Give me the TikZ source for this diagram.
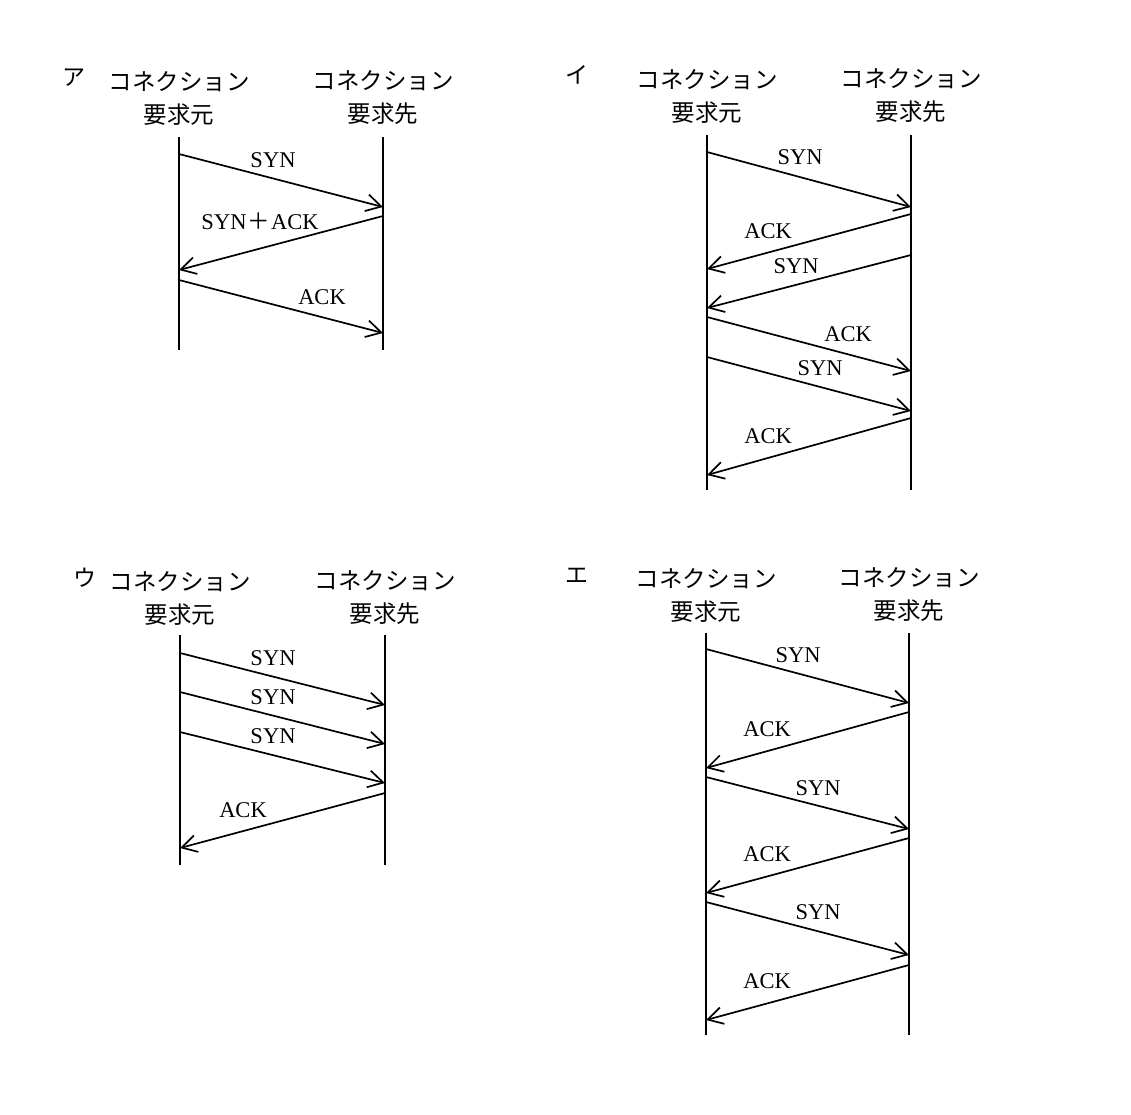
\documentclass[tikz,border=0pt]{standalone}
\usepackage{fontspec}
\setmainfont{Liberation Serif}
\newfontfamily\jpfont{Noto Sans CJK JP}
\usetikzlibrary{arrows.meta}

\begin{document}
\begin{tikzpicture}[x=1pt, y=-1pt,
    msg/.style={-{Straight Barb[length=15pt,width=17pt]}, line width=1.7pt},
    life/.style={line width=1.7pt},
    title/.style={align=center, inner sep=0pt, font=\jpfont\fontsize{23.5}{33}\selectfont},
    lbl/.style={inner sep=0pt, font=\fontsize{22.5}{24}\selectfont},
    panelno/.style={inner sep=0pt, font=\jpfont\fontsize{23}{24}\selectfont}]
    \useasboundingbox (0,0) rectangle (1131,1114);

    % ア
    \node[panelno] (pa) at (74,78) {ア};
    \node[title] (asrc) at (179,98) {コネクション\\要求元};
    \node[title] (adst) at (383,98) {コネクション\\要求先};
    \coordinate (atop1) at (179,137); \coordinate (abot1) at (179,350);
    \coordinate (atop2) at (383,137); \coordinate (abot2) at (383,350);
    \draw[life] (atop1) -- (abot1);
    \draw[life] (atop2) -- (abot2);
    \coordinate (a1) at (179,154); \coordinate (a2) at (383,207);
    \coordinate (a3) at (383,216); \coordinate (a4) at (179,270);
    \coordinate (a5) at (179,280); \coordinate (a6) at (383,333);
    \draw[msg] (a1) -- (a2);
    \draw[msg] (a3) -- (a4);
    \draw[msg] (a5) -- (a6);
    \node[lbl] (asyn) at (273,160) {SYN};
    \node[lbl] (asynack) at (260,221) {SYN\kern1pt{\jpfont ＋}\kern1pt ACK};
    \node[lbl] (aack) at (322,297) {ACK};

    % イ
    \node[panelno] (pb) at (577,75) {イ};
    \node[title] (bsrc) at (707,96) {コネクション\\要求元};
    \node[title] (bdst) at (911,96) {コネクション\\要求先};
    \coordinate (btop1) at (707,135); \coordinate (bbot1) at (707,490);
    \coordinate (btop2) at (911,135); \coordinate (bbot2) at (911,490);
    \draw[life] (btop1) -- (bbot1);
    \draw[life] (btop2) -- (bbot2);
    \coordinate (b1) at (707,152); \coordinate (b2) at (911,207);
    \coordinate (b3) at (911,214); \coordinate (b4) at (707,269);
    \coordinate (b5) at (911,255); \coordinate (b6) at (707,308);
    \coordinate (b7) at (707,317); \coordinate (b8) at (911,371);
    \coordinate (b9) at (707,357); \coordinate (b10) at (911,411);
    \coordinate (b11) at (911,418); \coordinate (b12) at (707,475);
    \draw[msg] (b1) -- (b2);
    \draw[msg] (b3) -- (b4);
    \draw[msg] (b5) -- (b6);
    \draw[msg] (b7) -- (b8);
    \draw[msg] (b9) -- (b10);
    \draw[msg] (b11) -- (b12);
    \node[lbl] (bsyn1) at (800,157) {SYN};
    \node[lbl] (back1) at (768,231) {ACK};
    \node[lbl] (bsyn2) at (796,266) {SYN};
    \node[lbl] (back2) at (848,334) {ACK};
    \node[lbl] (bsyn3) at (820,368) {SYN};
    \node[lbl] (back3) at (768,436) {ACK};

    % ウ
    \node[panelno] (pc) at (85,578) {ウ};
    \node[title] (csrc) at (180,598) {コネクション\\要求元};
    \node[title] (cdst) at (385,598) {コネクション\\要求先};
    \coordinate (ctop1) at (180,635); \coordinate (cbot1) at (180,865);
    \coordinate (ctop2) at (385,635); \coordinate (cbot2) at (385,865);
    \draw[life] (ctop1) -- (cbot1);
    \draw[life] (ctop2) -- (cbot2);
    \coordinate (c1) at (180,653); \coordinate (c2) at (385,705);
    \coordinate (c3) at (180,692); \coordinate (c4) at (385,744);
    \coordinate (c5) at (180,732); \coordinate (c6) at (385,783);
    \coordinate (c7) at (385,793); \coordinate (c8) at (180,848);
    \draw[msg] (c1) -- (c2);
    \draw[msg] (c3) -- (c4);
    \draw[msg] (c5) -- (c6);
    \draw[msg] (c7) -- (c8);
    \node[lbl] (csyn1) at (273,658) {SYN};
    \node[lbl] (csyn2) at (273,697) {SYN};
    \node[lbl] (csyn3) at (273,736) {SYN};
    \node[lbl] (cack) at (243,810) {ACK};

    % エ
    \node[panelno] (pd) at (577,576) {エ};
    \node[title] (dsrc) at (706,595) {コネクション\\要求元};
    \node[title] (ddst) at (909,595) {コネクション\\要求先};
    \coordinate (dtop1) at (706,633); \coordinate (dbot1) at (706,1035);
    \coordinate (dtop2) at (909,633); \coordinate (dbot2) at (909,1035);
    \draw[life] (dtop1) -- (dbot1);
    \draw[life] (dtop2) -- (dbot2);
    \coordinate (d1) at (706,649); \coordinate (d2) at (909,703);
    \coordinate (d3) at (909,712); \coordinate (d4) at (706,768);
    \coordinate (d5) at (706,777); \coordinate (d6) at (909,829);
    \coordinate (d7) at (909,838); \coordinate (d8) at (706,893);
    \coordinate (d9) at (706,902); \coordinate (d10) at (909,955);
    \coordinate (d11) at (909,965); \coordinate (d12) at (706,1020);
    \draw[msg] (d1) -- (d2);
    \draw[msg] (d3) -- (d4);
    \draw[msg] (d5) -- (d6);
    \draw[msg] (d7) -- (d8);
    \draw[msg] (d9) -- (d10);
    \draw[msg] (d11) -- (d12);
    \node[lbl] (dsyn1) at (798,655) {SYN};
    \node[lbl] (dack1) at (767,729) {ACK};
    \node[lbl] (dsyn2) at (818,788) {SYN};
    \node[lbl] (dack2) at (767,854) {ACK};
    \node[lbl] (dsyn3) at (818,912) {SYN};
    \node[lbl] (dack3) at (767,981) {ACK};
\end{tikzpicture}
\end{document}
